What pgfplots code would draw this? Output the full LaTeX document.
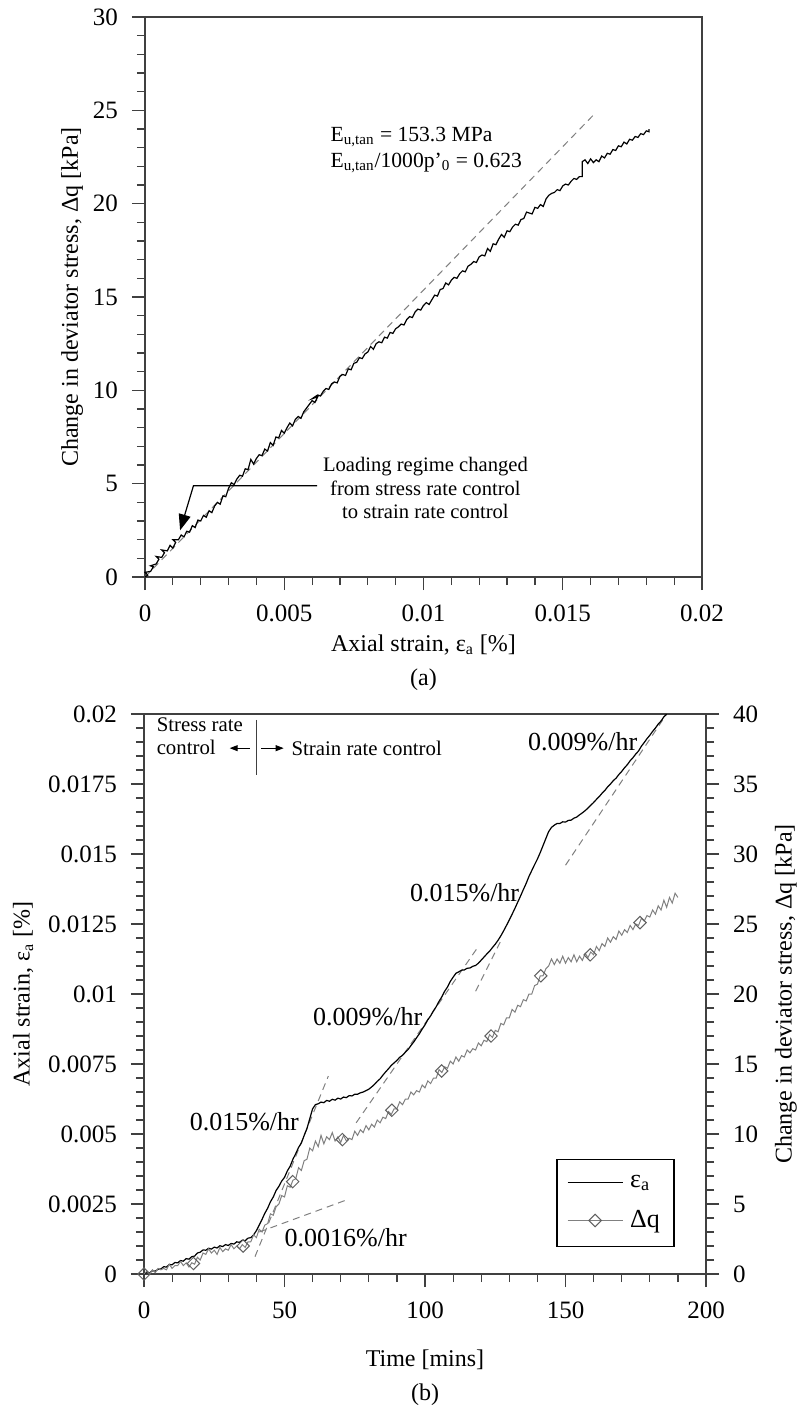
\documentclass[border=0pt]{standalone}
\usepackage{fontspec}
\setmainfont{Liberation Serif}
\usepackage{pgfplots}
\pgfplotsset{compat=1.18}
\usetikzlibrary{arrows.meta}

\definecolor{axgray}{HTML}{404040}
\definecolor{dqgray}{HTML}{808080}
\definecolor{mkgray}{HTML}{606060}
\definecolor{dashgray}{HTML}{808080}

% 1 px of the reference = 0.5pt
\pgfplotsset{
  base/.style={
    scale only axis, clip=false,
    tick align=outside,
    major tick length=6.5pt, minor tick length=4pt,
    minor tick num=4,
    axis line style={axgray, line width=0.6pt},
    tick style={axgray, line width=0.6pt},
    tick label style={font=\fontsize{12.5}{14}\selectfont},
    xticklabel style={yshift=-4pt},
    label style={font=\fontsize{12}{14}\selectfont},
    /pgf/number format/assume math mode=true,
    scaled ticks=false,
  },
  dashfit/.style={dashgray, line width=0.5pt, dash pattern=on 3.5pt off 2.5pt},
  legend image code/.code={
    \draw[#1, mark=none] (0pt,0pt) -- (27.5pt,0pt);
    \draw[#1] plot coordinates {(13.75pt,0pt)};
  },
}

\begin{document}
\begin{tikzpicture}
\path[use as bounding box] (0pt,0pt) rectangle (398.5pt,-706pt);

% ---------------- (a) ----------------
\begin{axis}[base,
  at={(72.5pt,-288.5pt)}, anchor=south west,
  width=278.5pt, height=280pt,
  xmin=0, xmax=0.02, ymin=0, ymax=30,
  xtick={0,0.005,0.01,0.015,0.02},
  xticklabels={0,0.005,0.01,0.015,0.02},
  ytick={0,5,10,15,20,25,30},
  yticklabel style={xshift=-3.5pt},
  xtick pos=bottom, ytick pos=left,
  xlabel={Axial strain, ε\textsubscript{a} [\%]},
  ylabel={Change in deviator stress, Δq [kPa]},
  xlabel style={at={(axis description cs:0.5,-0.121)}, anchor=center},
  ylabel style={at={(axis description cs:-0.131,0.5)}, anchor=center},
]
\addplot[dashfit] coordinates {(0,0) (0.0162,24.9)};
\addplot[black, line width=0.6pt] coordinates {
(0.0000,0.00) (0.0001,0.10) (0.0000,0.25) (0.0002,0.30) (0.0003,0.55) (0.0002,0.60)
(0.0004,0.70) (0.0005,0.95) (0.0004,1.10) (0.0006,1.05) (0.0007,1.30) (0.0006,1.45)
(0.0008,1.40) (0.0009,1.70) (0.0010,1.55) (0.0011,1.85) (0.0010,2.00) (0.0012,2.00)
(0.0013,2.25) (0.0014,2.15) (0.0015,2.45) (0.0016,2.40) (0.0017,2.75) (0.0018,2.65)
(0.0019,3.05) (0.0020,3.00) (0.0021,3.30) (0.0022,3.20) (0.0023,3.55) (0.0024,3.45)
(0.0025,3.80) (0.0026,4.00) (0.0027,3.90) (0.0028,4.35) (0.0029,4.30) (0.0030,4.75)
(0.0031,5.05) (0.0032,4.95) (0.0033,5.25) (0.0034,5.45) (0.0035,5.40) (0.0036,5.80)
(0.0037,5.75) (0.0038,6.30) (0.0039,6.05) (0.0040,6.35) (0.0041,6.55) (0.0042,6.50)
(0.0043,6.85) (0.0044,6.75) (0.0045,7.20) (0.0046,7.05) (0.0047,7.50) (0.0048,7.45)
(0.0049,7.85) (0.0050,7.70) (0.0051,8.00) (0.0052,8.25) (0.0053,8.10) (0.0054,8.45)
(0.0055,8.60) (0.0056,8.50) (0.0057,8.85) (0.0058,9.05) (0.0059,9.25) (0.0060,9.45)
(0.0061,9.35) (0.0062,9.65) (0.0060,9.55) (0.0062,9.75) (0.0063,9.70) (0.0064,9.95)
(0.0065,10.10) (0.0066,10.05) (0.0067,10.35) (0.0068,10.45) (0.0069,10.40) (0.0070,10.75)
(0.0071,10.85) (0.0072,10.80) (0.0073,11.15) (0.0074,11.10) (0.0075,11.45) (0.0076,11.50)
(0.0077,11.75) (0.0078,11.70) (0.0079,11.95) (0.0080,12.05) (0.0081,12.35) (0.0082,12.20)
(0.0083,12.50) (0.0084,12.60) (0.0085,12.55) (0.0086,12.85) (0.0087,12.80) (0.0088,13.10)
(0.0089,13.05) (0.0090,13.30) (0.0091,13.40) (0.0092,13.55) (0.0093,13.50) (0.0094,13.80)
(0.0095,13.95) (0.0096,13.90) (0.0097,14.20) (0.0098,14.35) (0.0099,14.30) (0.0100,14.55)
(0.0101,14.70) (0.0102,14.60) (0.0103,14.85) (0.0104,15.10) (0.0105,15.05) (0.0106,15.40)
(0.0107,15.45) (0.0108,15.75) (0.0109,15.65) (0.0110,15.90) (0.0111,16.05) (0.0112,16.00)
(0.0113,16.25) (0.0114,16.40) (0.0115,16.35) (0.0116,16.65) (0.0117,16.75) (0.0118,16.90)
(0.0119,16.85) (0.0120,17.15) (0.0121,17.25) (0.0122,17.20) (0.0123,17.60) (0.0124,17.45)
(0.0125,17.85) (0.0126,17.80) (0.0127,18.10) (0.0128,18.35) (0.0129,18.20) (0.0130,18.55)
(0.0131,18.50) (0.0132,18.75) (0.0133,18.90) (0.0134,18.85) (0.0135,19.15) (0.0136,19.20)
(0.0137,19.55) (0.0138,19.50) (0.0139,19.45) (0.0140,19.80) (0.0141,19.75) (0.0142,19.95)
(0.0143,19.85) (0.0144,20.25) (0.0145,20.45) (0.0146,20.55) (0.0147,20.60) (0.0148,20.75)
(0.0149,20.70) (0.0150,20.95) (0.0151,21.05) (0.0152,21.00) (0.0153,21.20) (0.0154,21.35)
(0.0155,21.30) (0.0156,21.45) (0.0157,21.45) (0.0157,22.25) (0.0158,22.35) (0.0159,22.15)
(0.0160,22.40) (0.0161,22.20) (0.0162,22.35) (0.0163,22.25) (0.0164,22.55) (0.0165,22.45)
(0.0166,22.70) (0.0167,22.65) (0.0168,22.90) (0.0169,22.85) (0.0170,23.10) (0.0171,23.05)
(0.0172,23.30) (0.0173,23.20) (0.0174,23.45) (0.0175,23.40) (0.0176,23.60) (0.0177,23.55)
(0.0178,23.75) (0.0179,23.70) (0.0180,23.90) (0.0181,23.85) (0.0181,24.00)
};
\draw[black, line width=0.6pt, -{Triangle[length=8pt,width=6pt]}]
  (axis cs:0.00618,4.89) -- (axis cs:0.00174,4.89) -- (axis cs:0.00126,2.5);
\node[align=center, inner sep=0pt, font=\fontsize{10.3}{11.65}\selectfont]
  at (axis cs:0.01007,4.77) {Loading regime changed\\from stress rate control\\to strain rate control};
\node[anchor=west, inner sep=0pt, font=\fontsize{10.8}{12}\selectfont]
  at (axis cs:0.00665,23.57) {E\textsubscript{u,tan} = 153.3 MPa};
\node[anchor=west, inner sep=0pt, font=\fontsize{10.8}{12}\selectfont]
  at (axis cs:0.00665,22.17) {E\textsubscript{u,tan}/1000p'\textsubscript{0} = 0.623};
\node[font=\fontsize{12}{14}\selectfont] at (axis description cs:0.5,-0.184) {(a)};
\end{axis}

% ---------------- (b), left axis ----------------
\begin{axis}[base,
  at={(72pt,-637pt)}, anchor=south west,
  width=281pt, height=280pt,
  xmin=0, xmax=200, ymin=0, ymax=0.02,
  xtick={0,50,100,150,200},
  ytick={0,0.0025,0.005,0.0075,0.01,0.0125,0.015,0.0175,0.02},
  yticklabels={0,0.0025,0.005,0.0075,0.01,0.0125,0.015,0.0175,0.02},
  yticklabel style={xshift=-3.5pt},
  xtick pos=bottom, ytick pos=left,
  xlabel={Time [mins]},
  ylabel={Axial strain, ε\textsubscript{a} [\%]},
  xlabel style={at={(axis description cs:0.5,-0.154)}, anchor=center},
  ylabel style={at={(axis description cs:-0.215,0.5)}, anchor=center},
]
\addplot[dashfit] coordinates {(41,0.0015) (73,0.00268)};
\addplot[dashfit] coordinates {(39.5,0.00062) (65.6,0.00707)};
\addplot[dashfit] coordinates {(75.5,0.0054) (119,0.0117)};
\addplot[dashfit] coordinates {(118,0.0101) (127,0.0119)};
\addplot[dashfit] coordinates {(150,0.0146) (186,0.0200)};
\addplot[black, line width=0.6pt] coordinates {
(0,0.00000) (1,0.00006) (2,0.00004) (3,0.00012) (4,0.00010) (5,0.00017) (6,0.00018)
(7,0.00026) (8,0.00025) (9,0.00034) (10,0.00033) (11,0.00041) (12,0.00040) (13,0.00048)
(14,0.00046) (15,0.00055) (16,0.00053) (17,0.00062) (18,0.00064) (19,0.00075) (20,0.00078)
(21,0.00086) (22,0.00085) (23,0.00092) (24,0.00089) (25,0.00096) (26,0.00093) (27,0.00101)
(28,0.00098) (29,0.00105) (30,0.00102) (31,0.00109) (32,0.00107) (33,0.00115) (34,0.00113)
(35,0.00121) (36,0.00119) (37,0.00128) (38,0.00130) (39,0.00140) (40,0.00155) (41,0.00175)
(42,0.00195) (43,0.00217) (44,0.00235) (45,0.00258) (46,0.00275) (47,0.00298) (48,0.00313)
(49,0.00332) (50,0.00345) (51,0.00368) (52,0.00385) (53,0.00410) (54,0.00430) (55,0.00452)
(56,0.00468) (57,0.00495) (58,0.00520) (59,0.00555) (60,0.00590) (61,0.00605) (62,0.00608)
(63,0.00614) (64,0.00612) (65,0.00620) (66,0.00617) (67,0.00624) (68,0.00621) (69,0.00628)
(70,0.00625) (71,0.00632) (72,0.00630) (73,0.00637) (74,0.00636) (75,0.00642) (76,0.00642)
(77,0.00647) (78,0.00650) (79,0.00655) (80,0.00660) (81,0.00668) (82,0.00677) (83,0.00688)
(84,0.00697) (85,0.00710) (86,0.00722) (87,0.00733) (88,0.00745) (89,0.00754) (90,0.00763)
(91,0.00774) (92,0.00781) (93,0.00792) (94,0.00802) (95,0.00816) (96,0.00829) (97,0.00844)
(98,0.00858) (99,0.00875) (100,0.00890) (101,0.00908) (102,0.00922) (103,0.00940) (104,0.00955)
(105,0.00974) (106,0.00990) (107,0.01010) (108,0.01025) (109,0.01045) (110,0.01060) (111,0.01074)
(112,0.01079) (113,0.01085) (114,0.01086) (115,0.01092) (116,0.01093) (117,0.01099) (118,0.01102)
(119,0.01110) (120,0.01121) (121,0.01132) (122,0.01143) (123,0.01153) (124,0.01166) (125,0.01178)
(126,0.01192) (127,0.01208) (128,0.01226) (129,0.01245) (130,0.01265) (131,0.01285) (132,0.01306)
(133,0.01328) (134,0.01350) (135,0.01373) (136,0.01395) (137,0.01420) (138,0.01441) (139,0.01462)
(140,0.01482) (141,0.01505) (142,0.01530) (143,0.01555) (144,0.01580) (145,0.01595) (146,0.01603)
(147,0.01609) (148,0.01609) (149,0.01615) (150,0.01614) (151,0.01620) (152,0.01621) (153,0.01628)
(154,0.01632) (155,0.01640) (156,0.01647) (157,0.01655) (158,0.01664) (159,0.01674) (160,0.01684)
(161,0.01695) (162,0.01705) (163,0.01717) (164,0.01727) (165,0.01740) (166,0.01750) (167,0.01762)
(168,0.01771) (169,0.01784) (170,0.01795) (171,0.01808) (172,0.01819) (173,0.01833) (174,0.01844)
(175,0.01857) (176,0.01868) (177,0.01885) (178,0.01898) (179,0.01912) (180,0.01924) (181,0.01938)
(182,0.01950) (183,0.01964) (184,0.01975) (185,0.01990) (186,0.02000)
};
\draw[axgray, line width=0.6pt] (axis cs:40,0.01979) -- (axis cs:40,0.01782);
\draw[black, line width=0.5pt, -{Triangle[length=4pt,width=3pt]}]
  (axis cs:37.6,0.01878) -- (axis cs:30.5,0.01878);
\draw[black, line width=0.5pt, -{Triangle[length=4pt,width=3pt]}]
  (axis cs:41.8,0.01878) -- (axis cs:49.7,0.01878);
\node[anchor=west, align=left, inner sep=0pt, font=\fontsize{10.4}{11.35}\selectfont]
  at (axis cs:4.4,0.0192) {Stress rate\\control};
\node[anchor=west, inner sep=0pt, font=\fontsize{10.4}{12}\selectfont]
  at (axis cs:52.4,0.01878) {Strain rate control};
\begin{scope}[every node/.style={inner sep=0pt, font=\fontsize{13}{15}\selectfont}]
\node at (axis cs:156.1,0.0190) {0.009\%/hr};
\node at (axis cs:114.1,0.01361) {0.015\%/hr};
\node at (axis cs:79.6,0.00918) {0.009\%/hr};
\node at (axis cs:35.7,0.00543) {0.015\%/hr};
\node at (axis cs:71.8,0.00129) {0.0016\%/hr};
\end{scope}
\node[font=\fontsize{12}{14}\selectfont] at (axis description cs:0.5,-0.216) {(b)};
\end{axis}

% ---------------- (b), right axis ----------------
\begin{axis}[base,
  at={(72pt,-637pt)}, anchor=south west,
  width=281pt, height=280pt,
  xmin=0, xmax=200, ymin=0, ymax=40,
  axis x line=none, axis y line*=right,
  ytick={0,5,10,15,20,25,30,35,40},
  yticklabel style={xshift=3.5pt},
  ylabel={Change in deviator stress, Δq [kPa]},
  ylabel style={at={(axis description cs:1.142,0.5)}, anchor=center},
  legend cell align=left,
  legend style={at={(axis description cs:0.944,0.048)}, anchor=south east,
    draw=black, line width=0.6pt, row sep=6pt, inner xsep=5pt, inner ysep=6pt,
    font=\fontsize{13}{15}\selectfont,
    /tikz/every odd column/.append style={column sep=1.5pt}},
]
\addlegendimage{black, line width=0.6pt}
\addlegendentry{ε\textsubscript{a}}
\addlegendimage{dqgray, line width=0.5pt, mark=square, mark size=2.2pt,
  mark options={rotate=45, draw=mkgray, fill=none}}
\addlegendentry{Δq}
\addplot[dqgray, line width=0.5pt, forget plot] coordinates {
(0,0.0) (1,0.2) (2,0.0) (3,0.3) (4,0.1) (5,0.4) (6,0.3) (7,0.4) (8,0.3) (9,0.7) (10,0.4)
(11,0.6) (12,0.6) (13,0.9) (14,0.6) (15,0.8) (16,0.5) (17,0.8) (18,0.7) (19,1.2) (20,1.0)
(21,1.5) (22,1.4) (23,1.8) (24,1.5) (25,1.7) (26,1.4) (27,1.9) (28,1.6) (29,1.8) (30,1.7)
(31,2.1) (32,1.8) (33,2.0) (34,1.8) (35,2.1) (36,1.9) (37,2.3) (38,2.3) (39,2.8) (40,2.6)
(41,3.2) (42,3.0) (43,3.5) (44,3.6) (45,4.3) (46,4.2) (47,4.8) (48,5.0) (49,5.6) (50,5.5)
(51,6.3) (52,6.2) (53,6.7) (54,6.8) (55,7.6) (56,7.4) (57,8.1) (58,8.2) (59,9.0) (60,8.8)
(61,9.5) (62,9.1) (63,9.9) (64,9.3) (65,9.8) (66,9.6) (67,10.1) (68,9.5) (69,9.8) (70,9.4)
(71,9.9) (72,9.5) (73,9.7) (74,9.6) (75,10.2) (76,9.9) (77,10.3) (78,10.1) (79,10.6) (80,10.3)
(81,10.7) (82,10.5) (83,11.0) (84,10.8) (85,11.2) (86,11.1) (87,11.6) (88,11.4) (89,11.8) (90,11.8)
(91,12.3) (92,12.1) (93,12.5) (94,12.5) (95,13.0) (96,12.8) (97,13.1) (98,13.0) (99,13.5) (100,13.3)
(101,13.8) (102,13.6) (103,14.0) (104,14.0) (105,14.6) (106,14.4) (107,14.8) (108,14.7) (109,15.2) (110,15.0)
(111,15.5) (112,15.2) (113,15.6) (114,15.5) (115,16.0) (116,15.8) (117,16.1) (118,16.0) (119,16.5) (120,16.3)
(121,16.7) (122,16.6) (123,17.1) (124,16.9) (125,17.4) (126,17.3) (127,17.9) (128,17.8) (129,18.3) (130,18.3)
(131,18.9) (132,18.7) (133,19.2) (134,19.1) (135,19.6) (136,19.5) (137,20.0) (138,20.0) (139,20.6) (140,20.7)
(141,21.3) (142,21.3) (143,21.8) (144,22.0) (145,22.5) (146,22.1) (147,22.5) (148,22.2) (149,22.7) (150,22.2)
(151,22.6) (152,22.3) (153,22.8) (154,22.3) (155,22.7) (156,22.4) (157,22.9) (158,22.6) (159,23.0) (160,22.8)
(161,23.4) (162,23.1) (163,23.6) (164,23.4) (165,24.0) (166,23.7) (167,24.1) (168,23.9) (169,24.5) (170,24.2)
(171,24.6) (172,24.4) (173,24.9) (174,24.6) (175,25.0) (176,24.9) (177,25.4) (178,25.2) (179,25.6) (180,25.5)
(181,26.0) (182,25.7) (183,26.3) (184,26.0) (185,26.7) (186,26.2) (187,26.9) (188,26.5) (189,27.2) (190,26.9)
};
\addplot[only marks, mark=square, mark size=2.2pt, forget plot,
  mark options={rotate=45, draw=mkgray, fill=none, line width=0.5pt}] coordinates {
(0,0.0) (17.6,0.75) (35.3,2.0) (52.9,6.6) (70.6,9.6) (88.2,11.7)
(105.9,14.5) (123.5,17.0) (141.2,21.3) (158.8,22.8) (176.5,25.1)
};
\end{axis}
\end{tikzpicture}
\end{document}
